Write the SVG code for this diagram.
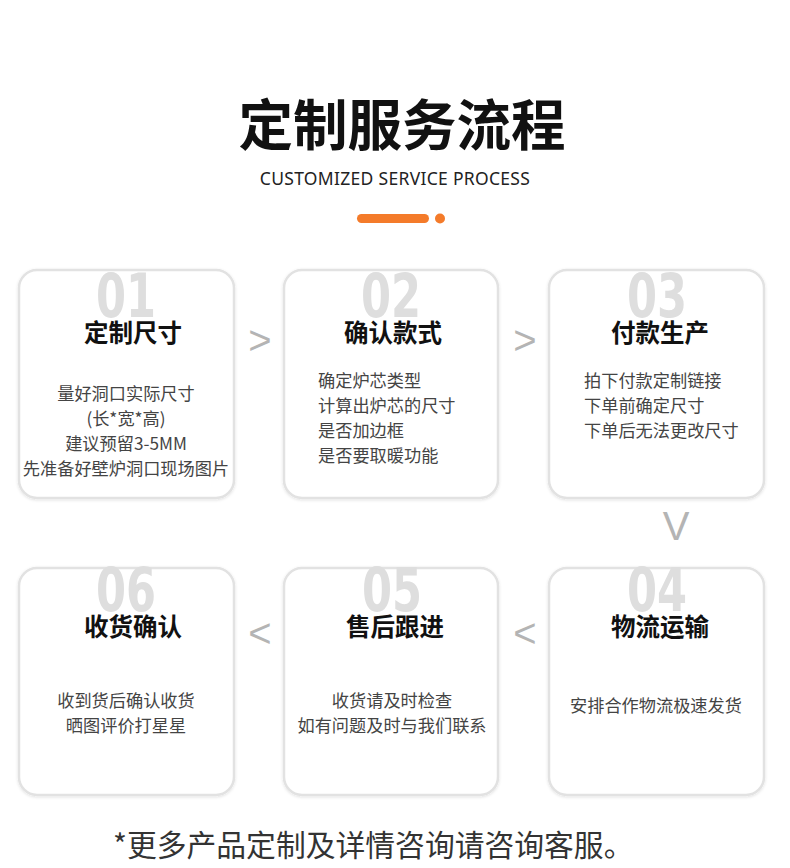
<svg xmlns="http://www.w3.org/2000/svg" width="790" height="868" viewBox="0 0 790 868">
<defs>
<style>
.card{fill:#fff;stroke:#e2e2e2;stroke-width:2.5}
.num{font-family:"DejaVu Sans","Noto Sans CJK SC",sans-serif;font-weight:bold;font-size:60px;fill:#dedede;text-anchor:middle}
.ttl{font-family:"Noto Sans CJK SC",sans-serif;font-weight:bold;font-size:24.5px;fill:#111;text-anchor:middle}
.body{font-family:"Noto Sans CJK SC",sans-serif;font-size:17.2px;fill:#444}
.c{text-anchor:middle}
.arr{font-family:"Liberation Sans","Noto Sans CJK SC",sans-serif;font-size:40px;fill:#b4b4b4;text-anchor:middle}
</style>
<filter id="sh" x="-10%" y="-10%" width="120%" height="120%"><feDropShadow dx="0" dy="1" stdDeviation="1.5" flood-color="#000" flood-opacity="0.12"/></filter>
</defs>
<rect width="790" height="868" fill="#fff"/>
<text x="402" y="145" font-family="Noto Sans CJK SC, sans-serif" font-weight="bold" font-size="54.5" fill="#111" text-anchor="middle">定制服务流程</text>
<text x="395" y="185" font-family="Noto Sans, Open Sans, sans-serif" font-size="17.5" fill="#222" text-anchor="middle" letter-spacing="0.3">CUSTOMIZED SERVICE PROCESS</text>
<rect x="357" y="214" width="72" height="9" rx="4.5" fill="#f47b2a"/>
<circle cx="440" cy="218.5" r="5" fill="#f47b2a"/>

<g id="n1">
<rect class="card" x="19" y="270" width="215" height="228" rx="18" filter="url(#sh)"/>
<text class="num" transform="translate(126,317) scale(0.72,1)">01</text>
<text class="ttl" x="133" y="342">定制尺寸</text>
<text class="body c"><tspan x="126" y="400">量好洞口实际尺寸</tspan><tspan x="126" y="425">(长*宽*高)</tspan><tspan x="126" y="450">建议预留3-5MM</tspan><tspan x="126" y="475">先准备好壁炉洞口现场图片</tspan></text>
</g>
<g id="n2">
<rect class="card" x="284" y="270" width="214" height="228" rx="18" filter="url(#sh)"/>
<text class="num" transform="translate(391,317) scale(0.72,1)">02</text>
<text class="ttl" x="393" y="342">确认款式</text>
<text class="body"><tspan x="318" y="387">确定炉芯类型</tspan><tspan x="318" y="412">计算出炉芯的尺寸</tspan><tspan x="318" y="437">是否加边框</tspan><tspan x="318" y="462">是否要取暖功能</tspan></text>
</g>
<g id="n3">
<rect class="card" x="549" y="270" width="215" height="228" rx="18" filter="url(#sh)"/>
<text class="num" transform="translate(657,317) scale(0.72,1)">03</text>
<text class="ttl" x="660" y="342">付款生产</text>
<text class="body"><tspan x="584" y="387">拍下付款定制链接</tspan><tspan x="584" y="412">下单前确定尺寸</tspan><tspan x="584" y="437">下单后无法更改尺寸</tspan></text>
</g>
<g id="n4">
<rect class="card" x="549" y="568" width="215" height="227" rx="18" filter="url(#sh)"/>
<text class="num" transform="translate(657,611) scale(0.72,1)">04</text>
<text class="ttl" x="660" y="636">物流运输</text>
<text class="body c" x="656" y="712">安排合作物流极速发货</text>
</g>
<g id="n5">
<rect class="card" x="284" y="568" width="214" height="227" rx="18" filter="url(#sh)"/>
<text class="num" transform="translate(392,611) scale(0.72,1)">05</text>
<text class="ttl" x="395" y="636">售后跟进</text>
<text class="body c"><tspan x="392" y="707">收货请及时检查</tspan><tspan x="392" y="732">如有问题及时与我们联系</tspan></text>
</g>
<g id="n6">
<rect class="card" x="19" y="568" width="215" height="227" rx="18" filter="url(#sh)"/>
<text class="num" transform="translate(126,611) scale(0.72,1)">06</text>
<text class="ttl" x="133" y="636">收货确认</text>
<text class="body c"><tspan x="126" y="707">收到货后确认收货</tspan><tspan x="126" y="732">晒图评价打星星</tspan></text>
</g>

<g id="connectors">
<text class="arr" x="260" y="354">&gt;</text>
<text class="arr" x="525" y="354">&gt;</text>
<text class="arr" x="676" y="540">V</text>
<text class="arr" x="525" y="647">&lt;</text>
<text class="arr" x="260" y="647">&lt;</text>
</g>

<text x="113" y="856" font-family="Noto Sans CJK SC, sans-serif" font-size="29.8" fill="#333">*更多产品定制及详情咨询请咨询客服。</text>
</svg>
